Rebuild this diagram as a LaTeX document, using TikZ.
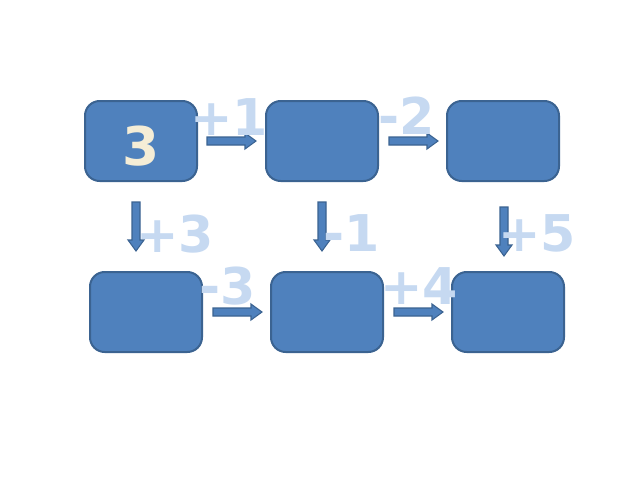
\documentclass[tikz,border=0pt]{standalone}
\usepackage{fontspec}
\setmainfont{DejaVu Sans}
\definecolor{boxfill}{HTML}{4F81BD}
\definecolor{boxline}{HTML}{3B6391}
\definecolor{labcol}{HTML}{C6D9F1}
\definecolor{numcol}{HTML}{F5EDD6}
\begin{document}
\begin{tikzpicture}[x=0.75pt,y=-0.75pt,
  box/.style={draw=boxline,fill=boxfill,line width=1.5pt,rounded corners=11pt,minimum width=84pt,minimum height=60pt,inner sep=0pt},
  lab/.style={text=labcol,font=\bfseries\fontsize{38}{38}\selectfont,inner sep=0pt},
  blk/.pic={\filldraw[fill=boxfill,draw=boxline,line width=0.8pt] (0,-4)--(38,-4)--(38,-8)--(49,0)--(38,8)--(38,4)--(0,4)--cycle;}]
\useasboundingbox (0,0) rectangle (640,480);
\node[box] (a) at (141,141) {};
\node[box] (b) at (322,141) {};
\node[box] (c) at (503,141) {};
\node[box] (d) at (146,312) {};
\node[box] (e) at (327,312) {};
\node[box] (f) at (508,312) {};
\node[text=numcol,font=\bfseries\fontsize{40}{40}\selectfont] (n) at (141,146) {3};
\pic at (207,141) {blk};
\pic at (389,141) {blk};
\pic at (213,312) {blk};
\pic at (394,312) {blk};
\pic[rotate=-90] at (136,202) {blk};
\pic[rotate=-90] at (322,202) {blk};
\pic[rotate=-90] at (504,207) {blk};
\node[lab] (l1) at (229,117) {+1};
\node[lab] (l2) at (407,116) {-2};
\node[lab] (l3) at (175,234) {+3};
\node[lab] (l4) at (352,233) {-1};
\node[lab] (l5) at (537,233) {+5};
\node[lab] (l6) at (228,286) {-3};
\node[lab] (l7) at (419,286) {+4};
\end{tikzpicture}
\end{document}
